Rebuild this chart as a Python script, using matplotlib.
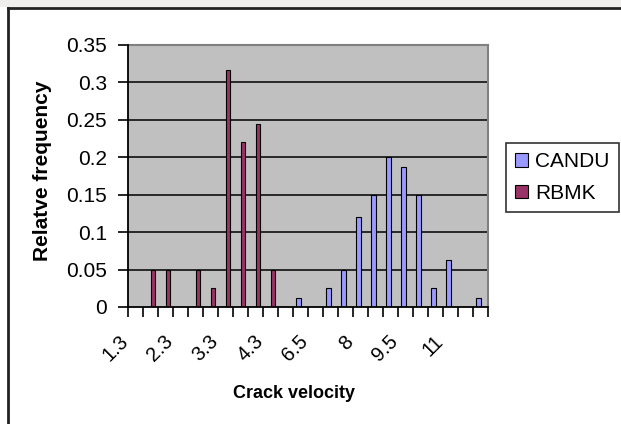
import numpy as np
import matplotlib
matplotlib.use("Agg")
import matplotlib.pyplot as plt
from matplotlib.patches import Rectangle
from matplotlib.transforms import ScaledTranslation

# Crack velocity classes (only every third one is labelled on the axis)
velocity = ["1.3", "1.6", "2", "2.3", "2.6", "3", "3.3", "3.6", "4", "4.3",
            "5", "6", "6.5", "7", "7.5", "8", "8.5", "9", "9.5", "10",
            "10.5", "11", "11.5", "12"]
tick_every = 3

# Relative frequency per velocity class
candu = [0, 0, 0, 0, 0, 0, 0, 0, 0, 0, 0, 0.0125,
         0, 0.025, 0.05, 0.12, 0.15, 0.2, 0.1875, 0.15, 0.025, 0.0625, 0, 0.0125]
rbmk = [0, 0.05, 0.05, 0, 0.05, 0.025, 0.317, 0.22, 0.244, 0.05, 0, 0,
        0, 0, 0, 0, 0, 0, 0, 0, 0, 0, 0, 0]

series_names = ["CANDU", "RBMK"]
colors = ["#9999FF", "#993366"]

plt.rcParams["font.family"] = ["Liberation Sans", "DejaVu Sans"]

W, H = 621, 424
fig = plt.figure(figsize=(W / 100, H / 100), dpi=100)
fig.patch.set_facecolor("white")

# light strip above the chart frame, and the frame's top/left edges
fig.add_artist(Rectangle((0, 1 - 7 / H), 1, 7 / H, transform=fig.transFigure,
                         facecolor="#efeeea", edgecolor="none"))
fig.add_artist(plt.Line2D([8 / W, 1], [1 - 8 / H, 1 - 8 / H], transform=fig.transFigure,
                          color="#222222", lw=2))
fig.add_artist(plt.Line2D([8 / W, 8 / W], [0, 1 - 8 / H], transform=fig.transFigure,
                          color="#222222", lw=2))

left, right, top, bottom = 128, 488, 45, 307
ax = fig.add_axes([left / W, 1 - bottom / H, (right - left) / W, (bottom - top) / H])
ax.set_facecolor("#C0C0C0")

x = np.arange(len(velocity))
w = 1 / 3.5
ax.bar(x - w / 2, candu, w, color=colors[0], edgecolor="black", linewidth=0.8,
       label=series_names[0], zorder=3)
ax.bar(x + w / 2, rbmk, w, color=colors[1], edgecolor="black", linewidth=0.8,
       label=series_names[1], zorder=3)

ax.set_xlim(-0.5, len(velocity) - 0.5)
ax.set_ylim(0, 0.35)

yt = np.round(np.arange(0, 0.351, 0.05), 2)
ax.set_yticks(yt)
ax.set_yticklabels(["0" if v == 0 else f"{v:g}" for v in yt])
for v in yt[1:-1]:
    ax.axhline(v, color="black", lw=1.1, zorder=1)

ax.set_xticks(x[::tick_every])
ax.set_xticklabels(velocity[::tick_every], rotation=45, ha="right",
                   rotation_mode="anchor")
ax.set_xticks(np.arange(-0.5, len(velocity), 1), minor=True)
ax.tick_params(axis="x", which="major", length=0, pad=18, labelsize=14.5)
ax.tick_params(axis="x", which="minor", length=7, width=1.2, color="black",
               direction="out")
ax.tick_params(axis="y", which="major", length=7, width=1.2, color="black",
               direction="out", pad=8, labelsize=15)

# nudge the slanted category labels left so they end just before each class
shift = ScaledTranslation(-17 / 100, 0, fig.dpi_scale_trans)
for lbl in ax.get_xticklabels():
    lbl.set_transform(lbl.get_transform() + shift)

for s in ["left", "bottom"]:
    ax.spines[s].set_color("black")
    ax.spines[s].set_linewidth(1.3)
    ax.spines[s].set_zorder(4)
for s in ["top", "right"]:
    ax.spines[s].set_color("#808080")
    ax.spines[s].set_linewidth(1.5)

fig.text(43 / W, 1 - 171 / H, "Relatve frequency", rotation=90, ha="center",
         va="center", fontsize=15, fontweight="bold")
fig.text(294 / W, 1 - 393 / H, "Crack velocity", ha="center", va="center",
         fontsize=13, fontweight="bold")

leg = fig.legend(loc="upper left", bbox_to_anchor=(506 / W, 1 - 143 / H),
                 fontsize=15, frameon=True, fancybox=False, handlelength=0.6,
                 handleheight=0.6, handletextpad=0.35, borderpad=0.45,
                 labelspacing=0.6, borderaxespad=0)
leg.get_frame().set_edgecolor("black")
leg.get_frame().set_linewidth(1.2)

fig.savefig("out.png", dpi=100)
